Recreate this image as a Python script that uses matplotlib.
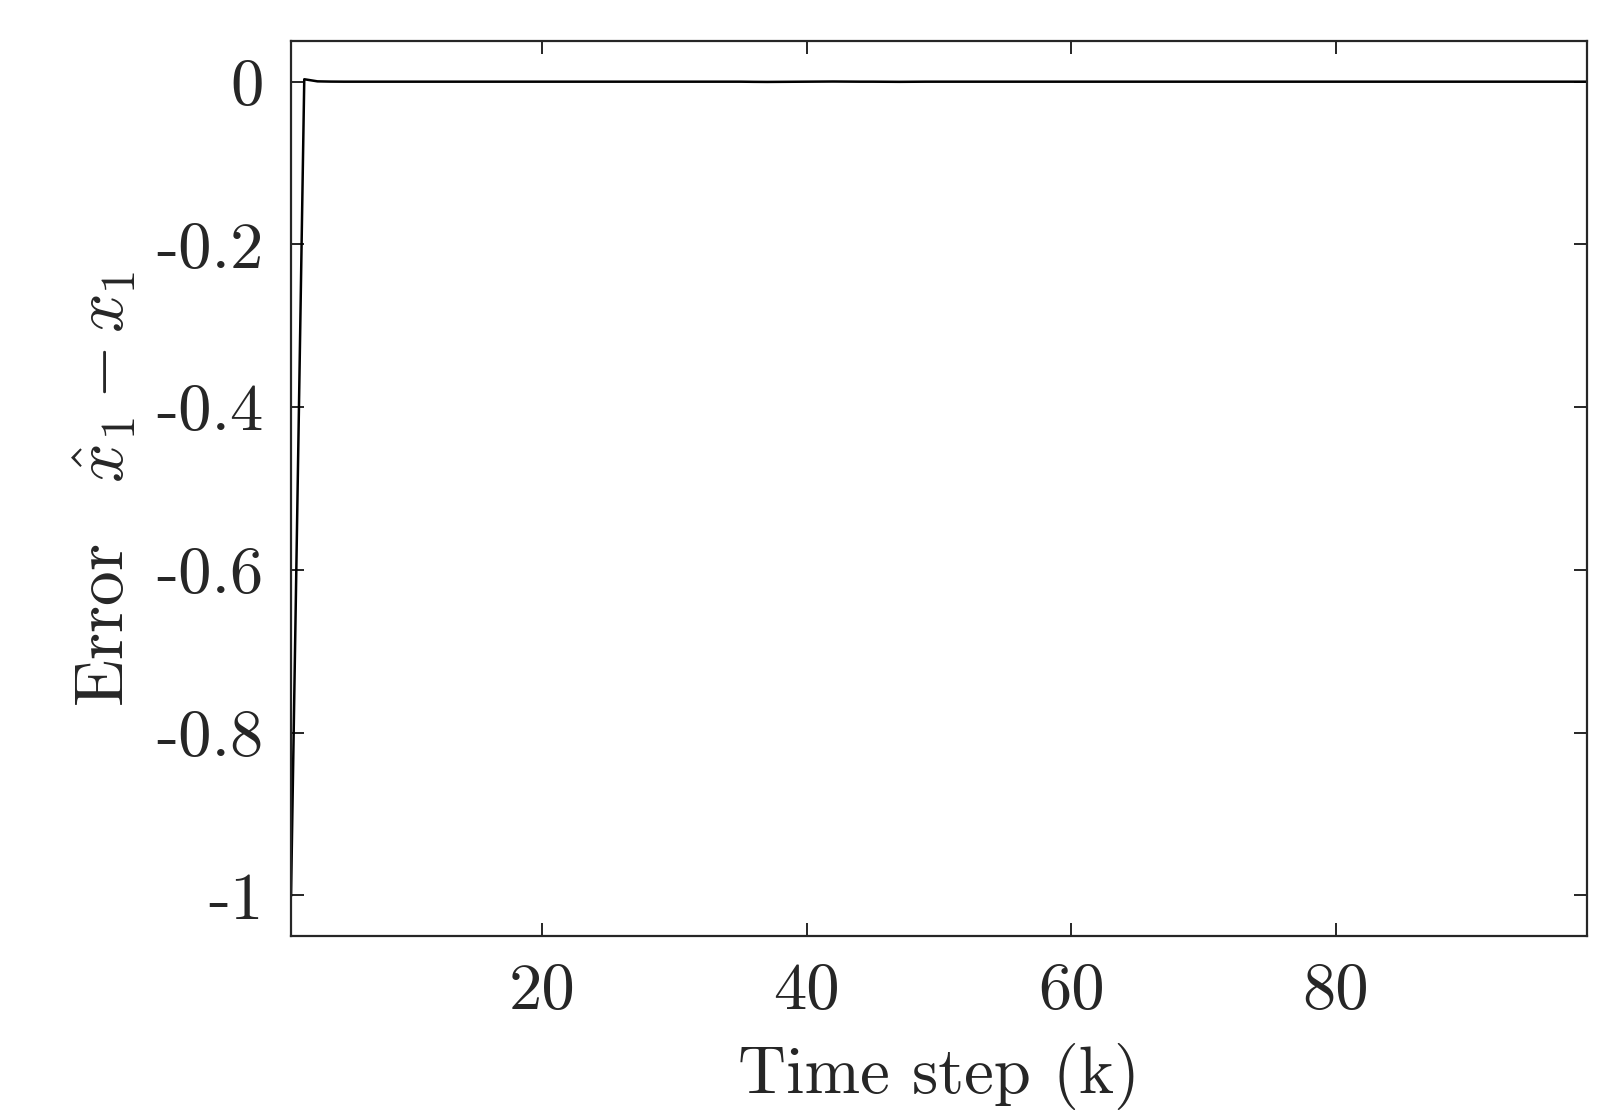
import matplotlib
matplotlib.use("Agg")
import matplotlib.pyplot as plt

# estimation error of the first state over time
k = list(range(1, 100))
err = [-1.0, 0.003, 0.0004, 0.0001, 0.0, 0.0, 0.0, 0.0, 0.0, 0.0,
       0.0, 0.0, 0.0, 0.0, 0.0, 0.0, 0.0, 0.0, 0.0, 0.0,
       0.0, 0.0, 0.0, 0.0, 0.0, 0.0, 0.0, 0.0, 0.0, 0.0,
       0.0, 0.0, 0.0, 0.0, 0.0, -0.0002, -0.0003, -0.0002, -0.0001, 0.0,
       0.0001, 0.0002, 0.0001, 0.0, 0.0, -0.0001, -0.0002, -0.0001, 0.0, 0.0,
       0.0, 0.0, 0.0, 0.0, 0.0, 0.0, 0.0, 0.0, 0.0, 0.0,
       0.0, 0.0, 0.0, 0.0, 0.0, 0.0, 0.0, 0.0, 0.0, 0.0,
       0.0, 0.0, 0.0, 0.0, 0.0, 0.0, 0.0, 0.0, 0.0, 0.0,
       0.0, 0.0, 0.0, 0.0, 0.0, 0.0, 0.0, 0.0, 0.0, 0.0,
       0.0, 0.0, 0.0, 0.0, 0.0, 0.0, 0.0, 0.0, 0.0]

xticks = [20, 40, 60, 80]
yticks = [-1, -0.8, -0.6, -0.4, -0.2, 0]
ylabels = ["-1", "-0.8", "-0.6", "-0.4", "-0.2", "0"]

grey = "#262626"
plt.rcParams["font.family"] = "serif"
plt.rcParams["font.serif"] = ["cmr10"]
plt.rcParams["mathtext.fontset"] = "cm"
plt.rcParams["axes.unicode_minus"] = False
plt.rcParams["axes.formatter.use_mathtext"] = True

fig = plt.figure(figsize=(16, 11.17), dpi=100)
ax = fig.add_axes([0.1819, 0.162, 0.81, 0.8013])

ax.plot(k, err, color="black", lw=1.8)

ax.set_xlim(1, 99)
ax.set_ylim(-1.05, 0.05)
ax.set_xticks(xticks)
ax.set_xticklabels([str(t) for t in xticks])
ax.set_yticks(yticks)
ax.set_yticklabels(ylabels)

for s in ax.spines.values():
    s.set_color(grey)
    s.set_linewidth(1.6)
ax.tick_params(direction="in", top=True, right=True, length=9.5, width=1.4,
               color=grey, labelcolor=grey, labelsize=48)
ax.tick_params(axis="y", pad=20)
ax.tick_params(axis="x", pad=19)

ax.set_xlabel("Time step (k)", fontsize=48, color=grey, labelpad=15)
ax.set_ylabel(r"$\mathrm{Error}\ \ \ \hat{x}_1 - x_1$", fontsize=50,
              color=grey, labelpad=13)

fig.savefig("out.png", dpi=100)
